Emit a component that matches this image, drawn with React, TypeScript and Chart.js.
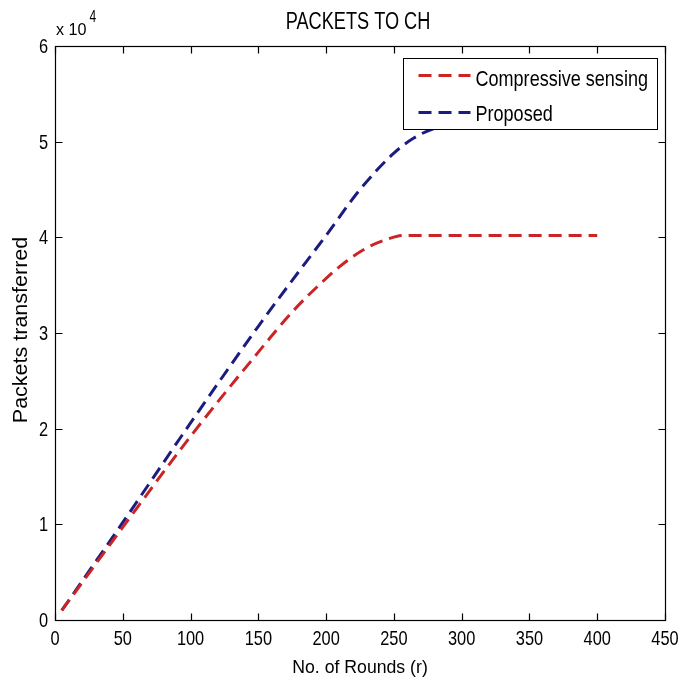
import { useEffect, useRef } from 'react';
import { Chart, registerables } from 'chart.js';

Chart.register(...registerables);

const FONT = '"Liberation Sans", Arial, sans-serif';

// Labels
const chartTitle = 'PACKETS TO CH';
const xAxisTitle = 'No. of Rounds (r)';
const yAxisTitle = 'Packets transferred';
const seriesNames = ['Compressive sensing', 'Proposed'];
const seriesColors = ['#cc2424', '#1c1c80'];

// Axis ranges and ticks
const xMin = 0;
const xMax = 450;
const xStep = 50;
const yMin = 0;
const yMax = 60000;
const yStep = 10000;
const yExponent = 4;

// Compressive sensing series
const csRounds = [5, 50, 100, 150, 175, 200, 215, 230, 245, 257, 300, 350, 400];
const csPackets = [1000, 9700, 19200, 28000, 32200, 35700, 37500, 38900, 39800, 40200, 40200, 40200, 40200];

// Proposed series
const propRounds = [5, 50, 100, 150, 175, 200, 225, 250, 265, 280, 300, 350, 400];
const propPackets = [1000, 10200, 20600, 30700, 35500, 40200, 45000, 48800, 50400, 51400, 52000, 52000, 52000];

const DASH = [13, 7];

// Text drawn with a horizontal squeeze to mimic a narrow face
function drawText(
  ctx: CanvasRenderingContext2D,
  text: string,
  x: number,
  y: number,
  size: number,
  sx: number,
  align: CanvasTextAlign,
) {
  ctx.save();
  ctx.font = `${size}px ${FONT}`;
  ctx.textAlign = align;
  ctx.textBaseline = 'alphabetic';
  ctx.fillStyle = '#000000';
  ctx.translate(x, y);
  ctx.scale(sx, 1);
  ctx.fillText(text, 0, 0);
  ctx.restore();
}

function textWidth(ctx: CanvasRenderingContext2D, text: string, size: number, sx: number) {
  ctx.save();
  ctx.font = `${size}px ${FONT}`;
  const w = ctx.measureText(text).width * sx;
  ctx.restore();
  return w;
}

const framePlugin = {
  id: 'frame',
  afterDatasetsDraw(chart: any) {
    const { ctx, chartArea: a, scales } = chart;
    const xs = scales.x;
    const ys = scales.y;
    ctx.save();

    // legend box inside the upper-right corner
    const legSize = 22;
    const legSx = 0.82;
    const tw = Math.max(...seriesNames.map((n) => textWidth(ctx, n, legSize, legSx)));
    const sampleLen = 52;
    const boxW = Math.round(15 + sampleLen + 5 + tw + 10);
    const boxH = 71;
    const bx = Math.round(a.right - 8 - boxW) + 0.5;
    const by = Math.round(a.top + 12) + 0.5;
    ctx.fillStyle = '#ffffff';
    ctx.fillRect(bx, by, boxW, boxH);
    ctx.strokeStyle = '#000000';
    ctx.lineWidth = 1;
    ctx.setLineDash([]);
    ctx.strokeRect(bx, by, boxW, boxH);
    const rowsLine = [17, 54];
    const rowsText = [27, 62];
    seriesNames.forEach((name, i) => {
      ctx.strokeStyle = seriesColors[i];
      ctx.lineWidth = 3;
      ctx.setLineDash(DASH);
      ctx.beginPath();
      ctx.moveTo(bx + 15, by + rowsLine[i]);
      ctx.lineTo(bx + 15 + sampleLen, by + rowsLine[i]);
      ctx.stroke();
      ctx.setLineDash([]);
      drawText(ctx, name, bx + 15 + sampleLen + 5, by + rowsText[i], legSize, legSx, 'left');
    });

    // axes box
    ctx.strokeStyle = '#000000';
    ctx.lineWidth = 1.2;
    ctx.setLineDash([]);
    const L = Math.round(a.left) + 0.5;
    const R = Math.round(a.right) + 0.5;
    const T = Math.round(a.top) + 0.5;
    const B = Math.round(a.bottom) + 0.5;
    ctx.strokeRect(L, T, R - L, B - T);

    // inward tick marks on all four sides, with tick labels
    const tl = 7;
    ctx.beginPath();
    for (const t of xs.ticks) {
      const px = Math.round(xs.getPixelForValue(t.value)) + 0.5;
      ctx.moveTo(px, B);
      ctx.lineTo(px, B - tl);
      ctx.moveTo(px, T);
      ctx.lineTo(px, T + tl);
    }
    for (const t of ys.ticks) {
      const py = Math.round(ys.getPixelForValue(t.value)) + 0.5;
      ctx.moveTo(L, py);
      ctx.lineTo(L + tl, py);
      ctx.moveTo(R, py);
      ctx.lineTo(R - tl, py);
    }
    ctx.stroke();

    for (const t of xs.ticks) {
      const px = xs.getPixelForValue(t.value);
      drawText(ctx, String(t.value), px, a.bottom + 25, 21, 0.78, 'center');
    }
    for (const t of ys.ticks) {
      const py = ys.getPixelForValue(t.value);
      drawText(ctx, String(t.value / Math.pow(10, yExponent)), a.left - 7, py + 7, 21, 0.78, 'right');
    }

    // title
    const cx = (a.left + a.right) / 2;
    drawText(ctx, chartTitle, cx - 2, 29, 23, 0.79, 'center');

    // x axis title
    drawText(ctx, xAxisTitle, cx, 673, 19, 0.93, 'center');

    // y axis title
    ctx.save();
    ctx.translate(27, (a.top + a.bottom) / 2 - 3);
    ctx.rotate(-Math.PI / 2);
    drawText(ctx, yAxisTitle, 0, 0, 20, 1.075, 'center');
    ctx.restore();

    // scale exponent "x 10^4"
    const base = 'x 10';
    drawText(ctx, base, a.left + 1, 35, 17, 0.95, 'left');
    const bw = textWidth(ctx, base, 17, 0.95);
    drawText(ctx, String(yExponent), a.left + 1 + bw + 3, 22, 16, 0.75, 'left');

    ctx.restore();
  },
};

export default function App() {
  const ref = useRef<HTMLCanvasElement | null>(null);

  useEffect(() => {
    if (!ref.current) return;
    const chart = new Chart(ref.current, {
      type: 'line',
      data: {
        datasets: [
          {
            label: seriesNames[0],
            data: csRounds.map((x, i) => ({ x, y: csPackets[i] })),
            borderColor: seriesColors[0],
            borderWidth: 3,
            borderDash: DASH,
            pointRadius: 0,
            fill: false,
            cubicInterpolationMode: 'monotone',
          },
          {
            label: seriesNames[1],
            data: propRounds.map((x, i) => ({ x, y: propPackets[i] })),
            borderColor: seriesColors[1],
            borderWidth: 3,
            borderDash: DASH,
            pointRadius: 0,
            fill: false,
            cubicInterpolationMode: 'monotone',
          },
        ],
      },
      options: {
        animation: false,
        responsive: true,
        maintainAspectRatio: false,
        layout: { padding: { top: 46, right: 13, left: 0, bottom: 0 } },
        plugins: {
          legend: { display: false },
          title: { display: false },
          tooltip: { enabled: false },
        },
        scales: {
          x: {
            type: 'linear',
            min: xMin,
            max: xMax,
            grid: { display: false, drawTicks: false },
            border: { display: false },
            ticks: { stepSize: xStep, autoSkip: false, maxRotation: 0, display: false },
            afterFit: (s: any) => {
              s.height = 63;
              s.paddingLeft = 0;
              s.paddingRight = 0;
            },
          },
          y: {
            type: 'linear',
            min: yMin,
            max: yMax,
            grid: { display: false, drawTicks: false },
            border: { display: false },
            ticks: { stepSize: yStep, autoSkip: false, display: false },
            afterFit: (s: any) => {
              s.width = 55;
              s.paddingTop = 0;
              s.paddingBottom = 0;
            },
          },
        },
      },
      plugins: [framePlugin],
    });
    return () => chart.destroy();
  }, []);

  return (
    <div style={{ position: 'fixed', left: 0, top: 0, width: 678, height: 683, background: '#ffffff' }}>
      <canvas ref={ref} />
    </div>
  );
}
